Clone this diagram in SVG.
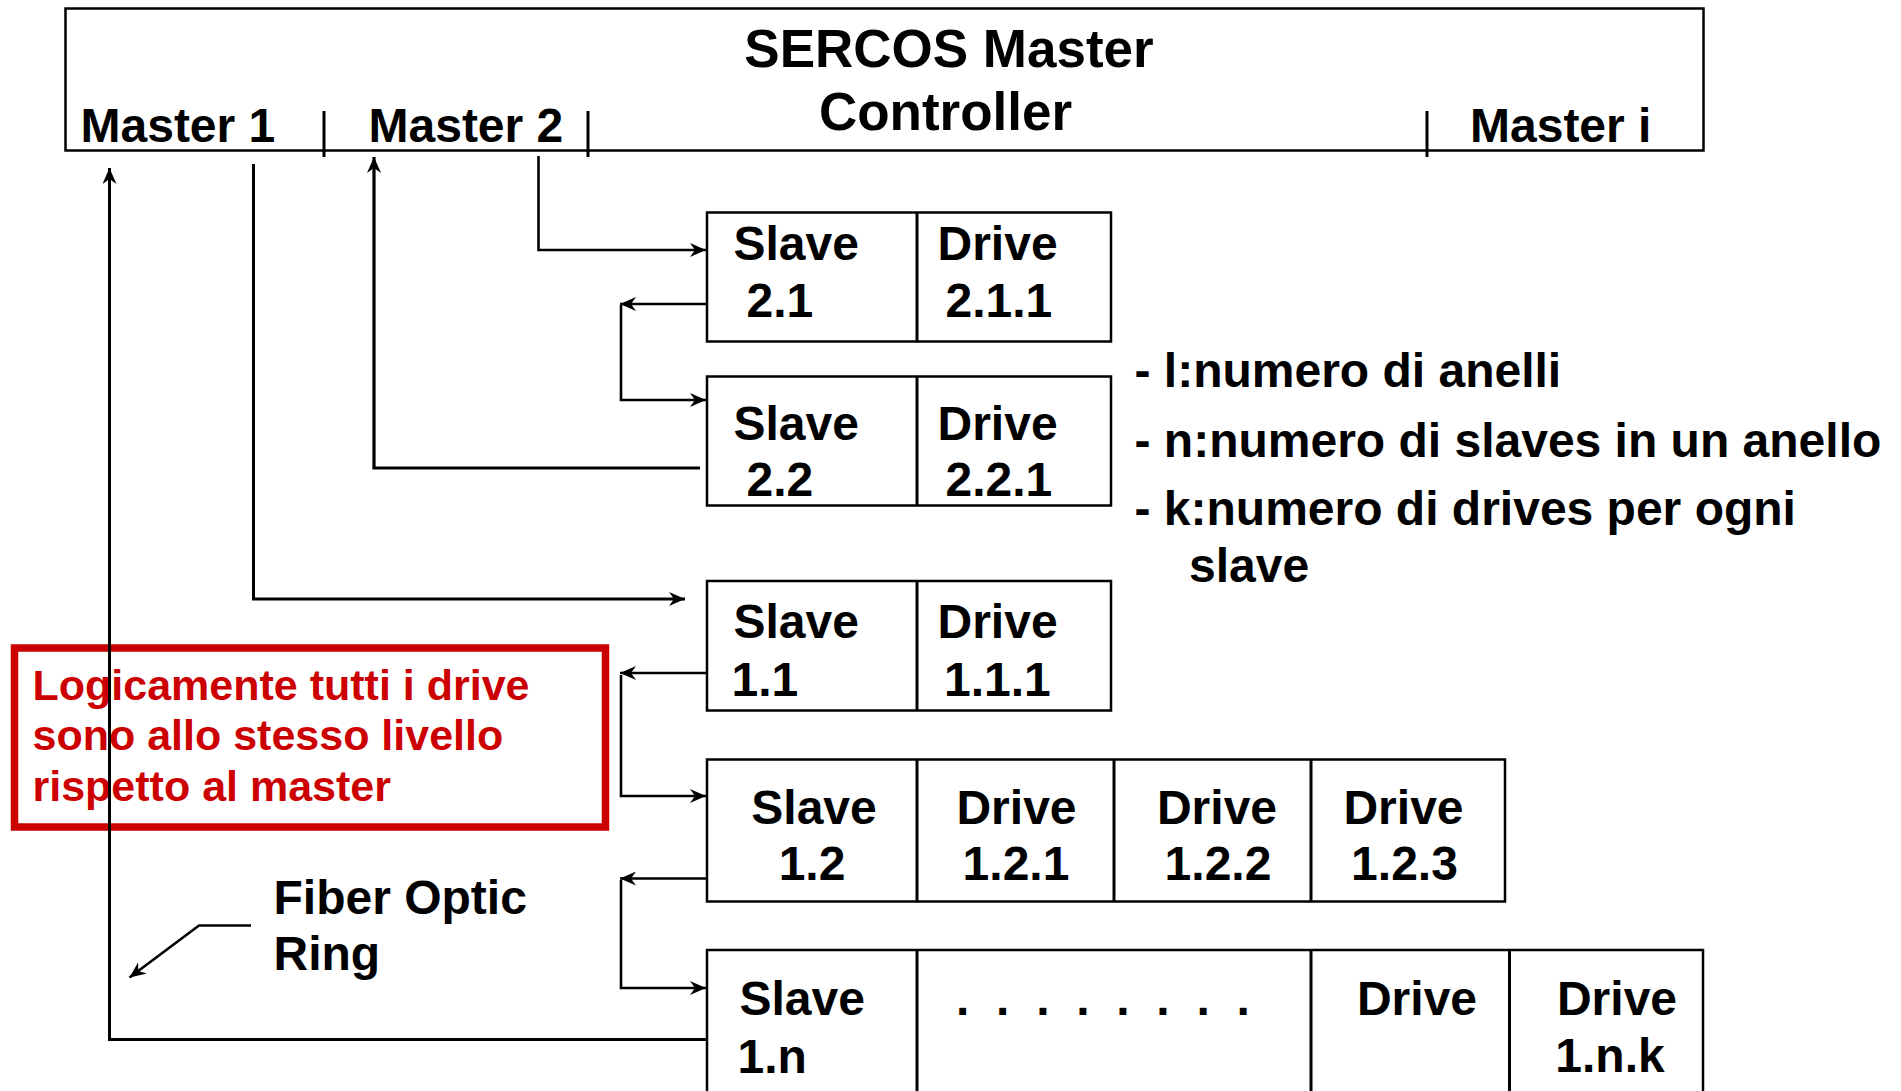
<svg xmlns="http://www.w3.org/2000/svg" width="1901" height="1091" viewBox="0 0 1901 1091">
<style>
text{font-family:"Liberation Sans",Arial,sans-serif;font-weight:bold;fill:#000}
.t48{font-size:48px}
.t53{font-size:53px}
.red{font-size:43px;fill:#CC0000}
.box{fill:none;stroke:#000;stroke-width:2.5}
.div{stroke:#000;stroke-width:3}
.c{text-anchor:middle}
.con{fill:none;stroke:#000;stroke-width:2.6}
</style>
<defs>
<marker id="ah" viewBox="0 0 16 14" refX="16" refY="7" markerWidth="16" markerHeight="14" markerUnits="userSpaceOnUse" orient="auto">
<path d="M0,0 L16,7 L0,14 L5,7 Z" fill="#000"/>
</marker>
</defs>
<rect x="0" y="0" width="1901" height="1091" fill="#fff"/>

<g id="note">
<rect x="14.5" y="648" width="591" height="179" fill="none" stroke="#CC0000" stroke-width="7.5"/>
<text class="red" x="32.5" y="699.5">Logicamente tutti i drive</text>
<text class="red" x="32.5" y="750">sono allo stesso livello</text>
<text class="red" x="32.5" y="801">rispetto al master</text>
</g>

<g id="master-controller">
<rect class="box" x="65.5" y="8.5" width="1638" height="142"/>
<line class="div" x1="324" y1="111" x2="324" y2="157"/>
<line class="div" x1="588" y1="111" x2="588" y2="157"/>
<line class="div" x1="1427" y1="111" x2="1427" y2="157"/>
<text class="t53 c" x="949" y="66.5">SERCOS Master</text>
<text class="t53 c" x="945.5" y="130">Controller</text>
<text class="t48" x="80.5" y="142">Master 1</text>
<text class="t48" x="368.5" y="142">Master 2</text>
<text class="t48" x="1470" y="142">Master i</text>
</g>

<g id="slave-2-1">
<rect class="box" x="707" y="212.5" width="404" height="129"/>
<line class="div" x1="917" y1="212.5" x2="917" y2="341.5"/>
<text class="t48" x="733.5" y="259.5">Slave</text>
<text class="t48" x="746.5" y="317">2.1</text>
<text class="t48" x="937.5" y="259.5">Drive</text>
<text class="t48" x="945.5" y="317">2.1.1</text>
</g>

<g id="slave-2-2">
<rect class="box" x="707" y="376.5" width="404" height="129"/>
<line class="div" x1="917" y1="376.5" x2="917" y2="505.5"/>
<text class="t48" x="733.5" y="439.5">Slave</text>
<text class="t48" x="746.5" y="495.5">2.2</text>
<text class="t48" x="937.5" y="439.5">Drive</text>
<text class="t48" x="945.5" y="495.5">2.2.1</text>
</g>

<g id="slave-1-1">
<rect class="box" x="707" y="581" width="404" height="129.5"/>
<line class="div" x1="917" y1="581" x2="917" y2="710.5"/>
<text class="t48" x="733.5" y="637.5">Slave</text>
<text class="t48" x="731.5" y="695.5">1.1</text>
<text class="t48" x="937.5" y="637.5">Drive</text>
<text class="t48" x="944" y="695.5">1.1.1</text>
</g>

<g id="slave-1-2">
<rect class="box" x="707" y="759.5" width="798" height="142"/>
<line class="div" x1="917" y1="759.5" x2="917" y2="901.5"/>
<line class="div" x1="1114" y1="759.5" x2="1114" y2="901.5"/>
<line class="div" x1="1311" y1="759.5" x2="1311" y2="901.5"/>
<text class="t48 c" x="814" y="823.5">Slave</text>
<text class="t48 c" x="812" y="880">1.2</text>
<text class="t48 c" x="1016.5" y="823.5">Drive</text>
<text class="t48 c" x="1016" y="880">1.2.1</text>
<text class="t48 c" x="1217" y="823.5">Drive</text>
<text class="t48 c" x="1218" y="880">1.2.2</text>
<text class="t48 c" x="1403.5" y="823.5">Drive</text>
<text class="t48 c" x="1404.5" y="880">1.2.3</text>
</g>

<g id="slave-1-n">
<rect class="box" x="707" y="950" width="996" height="160"/>
<line class="div" x1="917" y1="950" x2="917" y2="1110"/>
<line class="div" x1="1311" y1="950" x2="1311" y2="1110"/>
<line class="div" x1="1509.5" y1="950" x2="1509.5" y2="1110"/>
<text class="t48" x="739.5" y="1015">Slave</text>
<text class="t48" x="737.5" y="1073">1.n</text>
<text class="t48" x="956" y="1015" style="word-spacing:13.4px">. . . . . . . .</text>
<text class="t48 c" x="1417" y="1015">Drive</text>
<text class="t48 c" x="1617" y="1015">Drive</text>
<text class="t48 c" x="1610" y="1072">1.n.k</text>
</g>

<g id="legend">
<text class="t48" x="1134.5" y="386.5">- l:numero di anelli</text>
<text class="t48" x="1134.5" y="456.5">- n:numero di slaves in un anello</text>
<text class="t48" x="1134.5" y="525">- k:numero di drives per ogni</text>
<text class="t48" x="1189" y="581.5">slave</text>
</g>

<g id="fiber-label">
<text class="t48" x="273.5" y="913.5">Fiber Optic</text>
<text class="t48" x="273.5" y="970">Ring</text>
</g>

<g id="connectors">
<path class="con" d="M538.5,156 V250 H706" marker-end="url(#ah)"/>
<path class="con" d="M707,304 H620" marker-end="url(#ah)"/>
<path class="con" d="M621,305 V400 H706" marker-end="url(#ah)"/>
<path class="con" style="stroke-width:3.2" d="M700,468 H374 V157" marker-end="url(#ah)"/>
<path class="con" style="stroke-width:3" d="M253.5,164 V599 H685" marker-end="url(#ah)"/>
<path class="con" d="M707,673 H620" marker-end="url(#ah)"/>
<path class="con" d="M621,675 V796 H706" marker-end="url(#ah)"/>
<path class="con" d="M707,878.5 H620" marker-end="url(#ah)"/>
<path class="con" d="M621,880 V988 H706" marker-end="url(#ah)"/>
<path class="con" style="stroke-width:3" d="M707,1039.5 H109.5 V168" marker-end="url(#ah)"/>
<path class="con" d="M251,925.5 H199 L129.5,977.5" marker-end="url(#ah)"/>
</g>
</svg>
